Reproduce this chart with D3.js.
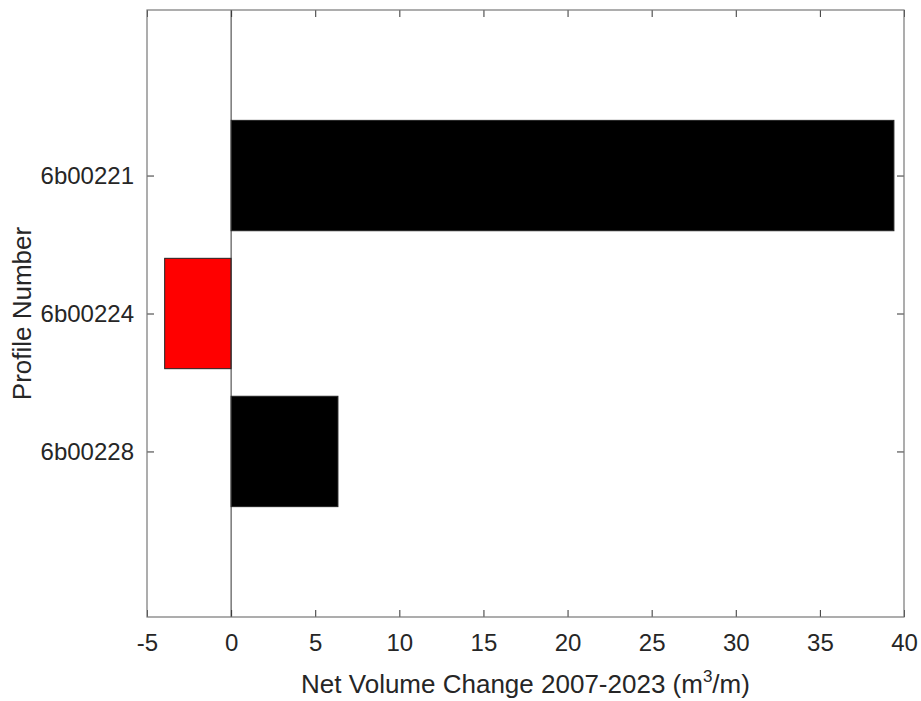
<!DOCTYPE html>
<html><head><meta charset="utf-8">
<script src="https://cdn.jsdelivr.net/npm/d3@7"></script>
<style>body{margin:0;background:#fff}svg{display:block}text{font-family:"Liberation Sans",Arial,sans-serif;fill:#262626}</style>
</head><body>
<script>
const categories = ["6b00221", "6b00224", "6b00228"];
const values = [39.4, -3.95, 6.35];
const xTicks = [-5, 0, 5, 10, 15, 20, 25, 30, 35, 40];
const xLabel = "Net Volume Change 2007-2023 (m";
const yLabel = "Profile Number";

const W = 921, H = 701;
const L = 147, R = 904, T = 10, B = 617;
const svg = d3.select("body").append("svg").attr("width", W).attr("height", H);

const x = d3.scaleLinear().domain([-5, 40]).range([L, R]);
const y = d3.scaleLinear().domain([-1.2, 3.2]).range([T, B]);
const barH = y(0.8) - y(0);

// bars
svg.append("g").selectAll("rect").data(values).join("rect")
  .attr("x", d => x(Math.min(0, d)))
  .attr("width", d => Math.abs(x(d) - x(0)))
  .attr("y", (d, i) => y(i) - barH / 2)
  .attr("height", barH)
  .attr("fill", d => d < 0 ? "#ff0000" : "#000000")
  .attr("stroke", "#222").attr("stroke-width", 1);

// baseline
svg.append("line").attr("x1", x(0)).attr("x2", x(0)).attr("y1", T).attr("y2", B)
  .attr("stroke", "#333").attr("stroke-width", 1);

// axes
const axisColor = "#777";
const gx = svg.append("g").attr("transform", `translate(0,${B})`)
  .call(d3.axisBottom(x).tickValues(xTicks).tickSize(-7).tickPadding(17).tickFormat(d => String(d)));
const gxt = svg.append("g").attr("transform", `translate(0,${T})`)
  .call(d3.axisTop(x).tickValues(xTicks).tickSize(-7).tickFormat(""));
const gy = svg.append("g").attr("transform", `translate(${L},0)`)
  .call(d3.axisLeft(y).tickValues([0, 1, 2]).tickSize(-7).tickPadding(13).tickFormat(i => categories[i]));
const gyr = svg.append("g").attr("transform", `translate(${R},0)`)
  .call(d3.axisRight(y).tickValues([0, 1, 2]).tickSize(-7).tickFormat(""));
[gx, gxt, gy, gyr].forEach(g => {
  g.select(".domain").remove();
  g.selectAll(".tick line").attr("stroke", "#333");
  g.selectAll("text").style("font-size", "24px").attr("fill", "#262626");
});
svg.append("rect").attr("x", L).attr("y", T).attr("width", R - L).attr("height", B - T)
  .attr("fill", "none").attr("stroke", axisColor).attr("stroke-width", 1.2);

// labels
const xl = svg.append("text").attr("x", (L + R) / 2).attr("y", 693).attr("text-anchor", "middle")
  .style("font-size", "26px").text(xLabel);
xl.append("tspan").attr("dy", -11).style("font-size", "17px").text("3");
xl.append("tspan").attr("dy", 11).text("/m)");

svg.append("text").attr("transform", `translate(31,${(T + B) / 2}) rotate(-90)`)
  .attr("text-anchor", "middle").style("font-size", "26px").text(yLabel);
</script>
</body></html>
